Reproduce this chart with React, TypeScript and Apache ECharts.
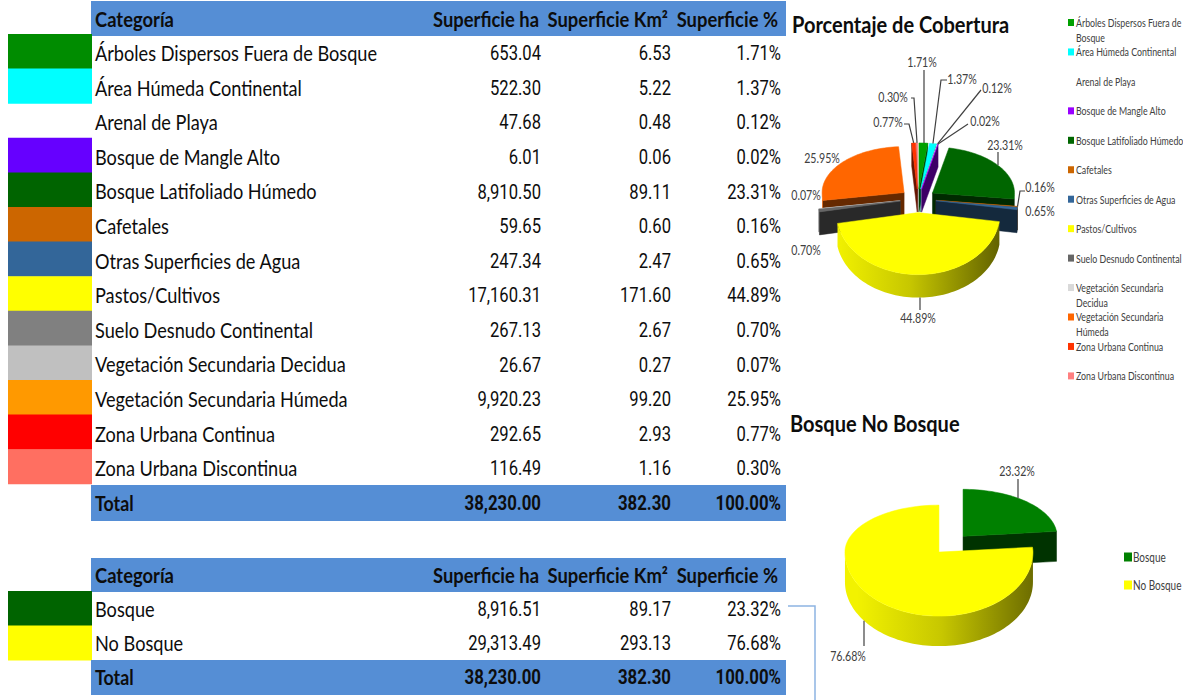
import React, { useEffect, useRef } from 'react';
import * as echarts from 'echarts';

// ---------- DATA ----------
const headers = ['Categoría', 'Superficie ha', 'Superficie Km²', 'Superficie %'];
const categories = [
  'Árboles Dispersos Fuera de Bosque', 'Área Húmeda Continental', 'Arenal de Playa',
  'Bosque de Mangle Alto', 'Bosque Latifoliado Húmedo', 'Cafetales', 'Otras Superficies de Agua',
  'Pastos/Cultivos', 'Suelo Desnudo Continental', 'Vegetación Secundaria Decidua',
  'Vegetación Secundaria Húmeda', 'Zona Urbana Continua', 'Zona Urbana Discontinua',
];
const areaHa = [653.04, 522.30, 47.68, 6.01, 8910.50, 59.65, 247.34, 17160.31, 267.13, 26.67, 9920.23, 292.65, 116.49];
const areaKm2 = [6.53, 5.22, 0.48, 0.06, 89.11, 0.60, 2.47, 171.60, 2.67, 0.27, 99.20, 2.93, 1.16];
const areaPct = [1.71, 1.37, 0.12, 0.02, 23.31, 0.16, 0.65, 44.89, 0.70, 0.07, 25.95, 0.77, 0.30];
const totalRow = [38230.00, 382.30, 100.00];

const forestCats = ['Bosque', 'No Bosque'];
const forestHa = [8916.51, 29313.49];
const forestKm2 = [89.17, 293.13];
const forestPct = [23.32, 76.68];
const forestTotal = [38230.00, 382.30, 100.00];

const titleCover = 'Porcentaje de Cobertura';
const titleForest = 'Bosque No Bosque';

// ---------- STYLE ----------
const tableColors = ['#008C00', '#00FFFF', null, '#6600FF', '#006400', '#CC6600', '#336699', '#FFFF00', '#808080', '#C0C0C0', '#FF9900', '#FF0000', '#FF6F61'];
const pieColors = ['#00A000', '#00FFFF', '#FFFFFF', '#9900FF', '#006600', '#CC6600', '#336699', '#FFFF00', '#666666', '#D9D9D9', '#FF6600', '#FF3300', '#FF8080'];
const forestTableColors = ['#006400', '#FFFF00'];
const forestPieColors = ['#008000', '#FFFF00'];
const HEAD_BLUE = '#558ED5';
const SX = 0.76;
const FONT = 'Lato, "Open Sans", sans-serif';
const NUMFONT = 'Roboto, "Open Sans", sans-serif';

// label layout: text centre, leader kink points; "vertical" = leader drops straight to the slice edge
const coverLabels: any[] = [
  { x: 922, y: 62, path: [[924, 70]], vertical: true },
  { x: 962, y: 79, path: [[947, 80], [941, 80]] },
  { x: 997, y: 88, path: [[981, 90]] },
  { x: 985, y: 121, path: [[968, 124]] },
  { x: 1005, y: 145, path: [[998, 152]], vertical: true },
  { x: 1040, y: 187, path: [[1025, 191], [1020, 191]] },
  { x: 1040, y: 211 },
  { x: 918, y: 318, path: [[920, 310]], vertical: true, toBase: true },
  { x: 806, y: 250 },
  { x: 806, y: 195 },
  { x: 822, y: 158 },
  { x: 888, y: 122, path: [[904, 124], [909, 124]] },
  { x: 893, y: 97, path: [[911, 98], [914, 98]] },
];
const forestLabels: any[] = [
  { x: 1017, y: 471, path: [[1018, 479]], vertical: true },
  { x: 848, y: 656, path: [[864, 646]], vertical: true, toBase: true },
];

const fmt = (v: number) => v.toLocaleString('en-US', { minimumFractionDigits: 2, maximumFractionDigits: 2 });
const pctFmt = (v: number) => v.toFixed(2) + '%';

function shade(hex: string, f: number) {
  const n = parseInt(hex.slice(1), 16);
  const r = Math.round(((n >> 16) & 255) * f), g = Math.round(((n >> 8) & 255) * f), b = Math.round((n & 255) * f);
  return `rgb(${r},${g},${b})`;
}

function T(x: number, y: number, text: string, size: number, opt: any = {}) {
  const align = opt.align ?? 'left';
  return {
    type: 'text', x, y, scaleX: opt.sx ?? SX, silent: true, z: 10,
    style: {
      text, x: 0, y: 0,
      font: `${opt.bold ? 'bold ' : ''}${size}px ${opt.family ?? FONT}`,
      fill: opt.color ?? '#0d0d0d',
      align, textAlign: align, verticalAlign: 'middle', textVerticalAlign: 'middle',
    },
  };
}

const D = Math.PI / 180;

function pie3D(values: number[], colors: string[], pcts: number[], cfg: any, labels: any[]) {
  const pt = (ax: number, ay: number, deg: number, dy = 0) => {
    const c = Math.cos(deg * D), s = Math.sin(deg * D);
    return [ax + cfg.rx * s, ay - c * (c > 0 ? cfg.ryB : cfg.ryF) + dy];
  };
  const arc = (ax: number, ay: number, a0: number, a1: number, dy = 0) => {
    const n = Math.max(2, Math.ceil((a1 - a0) / 2));
    const out: number[][] = [];
    for (let k = 0; k <= n; k++) out.push(pt(ax, ay, a0 + ((a1 - a0) * k) / n, dy));
    return out;
  };
  return {
    type: 'custom', coordinateSystem: 'none', silent: true,
    data: values,
    renderItem: (params: any, api: any) => {
      const n = params.dataInsideLength;
      const vals: number[] = [];
      for (let j = 0; j < n; j++) vals.push(api.value(0, j) as number);
      const total = vals.reduce((a, b) => a + b, 0);
      const spans: number[][] = [];
      let acc = 0;
      for (let j = 0; j < n; j++) { const a0 = (acc / total) * 360; acc += vals[j]; spans.push([a0, (acc / total) * 360]); }
      const apexOf = (j: number) => {
        const mid = ((spans[j][0] + spans[j][1]) / 2) * D;
        const c = Math.cos(mid);
        return [cfg.cx + cfg.explode * Math.sin(mid), cfg.cy - (cfg.explode * c * (c > 0 ? cfg.ryB : cfg.ryF)) / cfg.rx];
      };
      const keys = spans.map((s, j) => apexOf(j)[1] - Math.cos(((s[0] + s[1]) / 2) * D) * 30);
      const order = keys.map((k, j) => j).sort((a, b) => keys[a] - keys[b]);
      const i = params.dataIndex;
      const rank = order.indexOf(i);
      const [ax, ay] = apexOf(i);
      const [a0, a1] = spans[i];
      const col = colors[i];
      const isWhite = col.toUpperCase() === '#FFFFFF';
      const dark = isWhite ? '#FFFFFF' : shade(col, 0.4);
      const base = rank * 10;
      const dep = cfg.depth;
      const children: any[] = [];
      if (Math.sin(a0 * D) < -1e-6) {
        const p = pt(ax, ay, a0);
        children.push({ type: 'polygon', z2: base + 1, shape: { points: [[ax, ay], p, [p[0], p[1] + dep], [ax, ay + dep]] }, style: { fill: dark, stroke: dark, lineWidth: 0.5 } });
      }
      if (Math.sin(a1 * D) > 1e-6) {
        const p = pt(ax, ay, a1);
        children.push({ type: 'polygon', z2: base + 1, shape: { points: [[ax, ay], p, [p[0], p[1] + dep], [ax, ay + dep]] }, style: { fill: dark, stroke: dark, lineWidth: 0.5 } });
      }
      const w0 = Math.max(a0, 90), w1 = Math.min(a1, 270);
      if (w1 > w0) {
        const pts = arc(ax, ay, w0, w1).concat(arc(ax, ay, w0, w1, dep).reverse());
        const grad = isWhite ? '#FFFFFF' : {
          type: 'linear', x: cfg.cx - cfg.rx, y: 0, x2: cfg.cx + cfg.rx, y2: 0, global: true,
          colorStops: [
            { offset: 0, color: shade(col, 0.95) },
            { offset: 0.45, color: shade(col, 0.78) },
            { offset: 1, color: shade(col, 0.38) },
          ],
        };
        children.push({ type: 'polygon', z2: base + 2, shape: { points: pts }, style: { fill: grad } });
      }
      children.push({ type: 'polygon', z2: base + 3, shape: { points: [[ax, ay]].concat(arc(ax, ay, a0, a1)) }, style: { fill: col, stroke: col, lineWidth: 0.5 } });
      const L = labels[i];
      if (L) {
        if (L.path) {
          let ang = (a0 + a1) / 2;
          if (L.vertical) {
            const lx = L.path[L.path.length - 1][0];
            const s = Math.max(-1, Math.min(1, (lx - ax) / cfg.rx));
            const as = Math.asin(s) / D;
            ang = L.toBase ? 180 - as : (as < 0 ? as + 360 : as);
          }
          const end = pt(ax, ay, ang, L.toBase ? dep : 0);
          if (L.vertical) end[0] = L.path[L.path.length - 1][0];
          children.push({ type: 'polyline', z2: 900, shape: { points: L.path.concat([end]) }, style: { stroke: '#404040', lineWidth: 1.2, fill: null } });
        }
        children.push({
          type: 'text', x: L.x, y: L.y, scaleX: SX, z2: 1000,
          style: { text: pctFmt(pcts[i]), x: 0, y: 0, font: `14px ${FONT}`, fill: '#404040', align: 'center', textAlign: 'center', verticalAlign: 'middle', textVerticalAlign: 'middle' },
        });
      }
      return { type: 'group', children };
    },
  };
}

function buildGraphics() {
  const g: any[] = [];
  const colR = [541, 671, 781];
  const headR = [539, 668, 778];
  const HS = { bold: true, sx: 0.92 };
  const CS = { sx: 0.865 };
  const NS = { align: 'right', family: NUMFONT, sx: 0.79 };
  const TS = { bold: true, align: 'right', family: NUMFONT, sx: 0.8 };
  // ---- table 1 ----
  g.push({ type: 'rect', shape: { x: 91, y: 1, width: 695, height: 35 }, style: { fill: HEAD_BLUE } });
  g.push(T(95, 19, headers[0], 20, HS));
  for (let c = 1; c < 4; c++) g.push(T(headR[c - 1], 19, headers[c], 20, { ...HS, align: 'right' }));
  const rowH = 34.6;
  categories.forEach((cat, i) => {
    const top = 34 + rowH * i;
    const yc = 53 + rowH * i;
    if (tableColors[i]) g.push({ type: 'rect', shape: { x: 8, y: top, width: 84, height: rowH + 0.5 }, style: { fill: tableColors[i] } });
    g.push(T(95, yc, cat, 21, CS));
    g.push(T(colR[0], yc, fmt(areaHa[i]), 21, NS));
    g.push(T(colR[1], yc, fmt(areaKm2[i]), 21, NS));
    g.push(T(colR[2], yc, pctFmt(areaPct[i]), 21, NS));
  });
  g.push({ type: 'rect', shape: { x: 91, y: 485, width: 695, height: 36 }, style: { fill: HEAD_BLUE } });
  g.push(T(95, 503, 'Total', 20, { bold: true, sx: 0.89 }));
  g.push(T(colR[0], 503, fmt(totalRow[0]), 21, TS));
  g.push(T(colR[1], 503, fmt(totalRow[1]), 21, TS));
  g.push(T(colR[2], 503, pctFmt(totalRow[2]), 21, TS));

  // ---- table 2 ----
  g.push({ type: 'rect', shape: { x: 91, y: 558, width: 695, height: 34 }, style: { fill: HEAD_BLUE } });
  g.push(T(95, 575, headers[0], 20, HS));
  for (let c = 1; c < 4; c++) g.push(T(headR[c - 1], 575, headers[c], 20, { ...HS, align: 'right' }));
  forestCats.forEach((cat, i) => {
    const top = 591 + 34.5 * i;
    const yc = 609 + 34 * i;
    g.push({ type: 'rect', shape: { x: 8, y: top, width: 84, height: 35 }, style: { fill: forestTableColors[i] } });
    g.push(T(95, yc, cat, 21, CS));
    g.push(T(colR[0], yc, fmt(forestHa[i]), 21, NS));
    g.push(T(colR[1], yc, fmt(forestKm2[i]), 21, NS));
    g.push(T(colR[2], yc, pctFmt(forestPct[i]), 21, NS));
  });
  g.push({ type: 'rect', shape: { x: 91, y: 660, width: 695, height: 35 }, style: { fill: HEAD_BLUE } });
  g.push(T(95, 677, 'Total', 20, { bold: true, sx: 0.89 }));
  g.push(T(colR[0], 677, fmt(forestTotal[0]), 21, TS));
  g.push(T(colR[1], 677, fmt(forestTotal[1]), 21, TS));
  g.push(T(colR[2], 677, pctFmt(forestTotal[2]), 21, TS));
  g.push({ type: 'polyline', shape: { points: [[788, 606], [815, 606], [815, 700]] }, style: { stroke: '#8DB4E2', lineWidth: 1.5, fill: null } });

  // ---- titles ----
  g.push(T(792, 24, titleCover, 23, { bold: true, sx: 0.87 }));
  g.push(T(790, 423, titleForest, 23, { bold: true, sx: 0.87 }));

  // ---- legend 1 ----
  categories.forEach((cat, i) => {
    const y = 22.5 + 29.45 * i;
    let lines = [cat];
    if (cat.length > 26) {
      const cut = cat.lastIndexOf(' ', 26);
      lines = [cat.slice(0, cut), cat.slice(cut + 1)];
    }
    if (pieColors[i].toUpperCase() !== '#FFFFFF') g.push({ type: 'rect', shape: { x: 1068, y: y - 3.5, width: 6, height: 7 }, style: { fill: pieColors[i] } });
    lines.forEach((ln, k) => g.push(T(1076, y + 15 * k, ln, 11, { color: '#404040', sx: 0.8 })));
  });
  // ---- legend 2 ----
  forestCats.forEach((cat, i) => {
    const y = 557 + 28 * i;
    g.push({ type: 'rect', shape: { x: 1124, y: y - 4.5, width: 8, height: 9 }, style: { fill: forestPieColors[i] } });
    g.push(T(1133, y, cat, 13.5, { color: '#404040', sx: 0.74 }));
  });
  return g;
}

export default function App() {
  const ref = useRef<HTMLDivElement>(null);
  useEffect(() => {
    document.body.style.margin = '0';
    const chart = echarts.init(ref.current!, null, { renderer: 'svg' });
    chart.setOption({
      animation: false,
      backgroundColor: '#FFFFFF',
      graphic: buildGraphics(),
      series: [
        pie3D(areaHa, pieColors, areaPct, { cx: 918, cy: 199, rx: 82, ryB: 46, ryF: 62, depth: 23, explode: 18 }, coverLabels),
        pie3D(forestHa, forestPieColors, forestPct, { cx: 951, cy: 543, rx: 94, ryB: 47, ryF: 64, depth: 30, explode: 18 }, forestLabels),
      ],
    });
    return () => chart.dispose();
  }, []);
  return <div ref={ref} style={{ width: 1183, height: 700 }} />;
}
